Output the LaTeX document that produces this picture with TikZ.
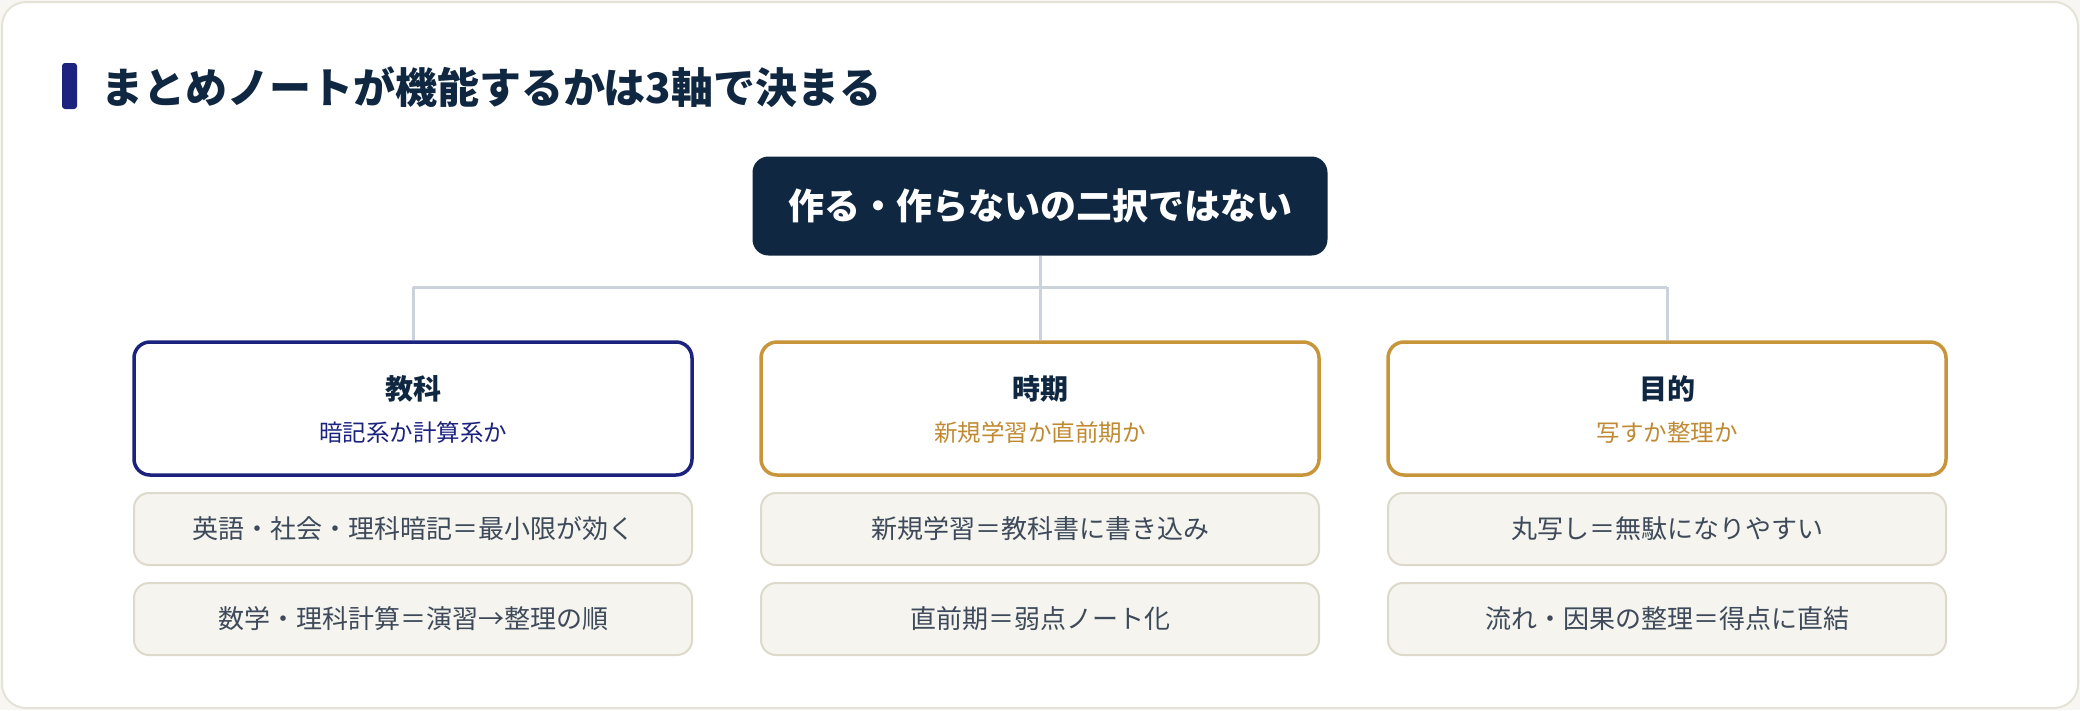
\documentclass[tikz,border=0pt]{standalone}
\usepackage{fontspec}
\setmainfont{Noto Sans CJK JP}
\usetikzlibrary{positioning}
\usetikzlibrary{backgrounds}
\definecolor{navy}{HTML}{0F2740}
\definecolor{indigo}{HTML}{1B237E}
\definecolor{gold}{HTML}{C8953A}
\definecolor{goldtext}{HTML}{C08A32}
\definecolor{linkgray}{HTML}{CBD2DB}
\definecolor{paper}{HTML}{F5F4EF}
\definecolor{paperline}{HTML}{DEDACB}
\definecolor{slate}{HTML}{3E4A5A}
\definecolor{framecol}{HTML}{E5E3D8}
\definecolor{outside}{HTML}{F7F6F2}
\tikzset{
  axisbox/.style={draw=#1,line width=3.5pt,fill=white,rounded corners=16pt,minimum width=558pt,minimum height=133pt},
  notebox/.style={draw=paperline,line width=2pt,fill=paper,rounded corners=15pt,minimum width=558pt,minimum height=72pt,text=slate,font=\fontsize{26}{31}\selectfont},
  link/.style={draw=linkgray,line width=3pt}
}

\begin{document}
\begin{tikzpicture}[x=1pt,y=-1pt]
\useasboundingbox (0,0) rectangle (2080,710);
\fill[outside] (0,0) rectangle (2080,710);
\draw[framecol,line width=2pt,fill=white,rounded corners=24pt] (2,2) rectangle (2078,708);
\fill[indigo,rounded corners=3pt] (62,63) rectangle (77,109);
\node (title) [anchor=west,inner sep=0pt,text=navy,font=\fontsize{42}{50}\selectfont\bfseries] at (101,87) {まとめノートが機能するかは3軸で決まる};
\node (root) at (1040,206) [fill=navy,rounded corners=16pt,minimum width=575pt,minimum height=99pt,text=white,font=\fontsize{36}{42}\selectfont\bfseries] {作る・作らないの二択ではない};
\coordinate (fork) at (1040,287);
\foreach \i/\xx/\col/\subcol/\head/\sub/\na/\nb in {
  1/413/indigo/indigo/教科/暗記系か計算系か/英語・社会・理科暗記＝最小限が効く/数学・理科計算＝演習→整理の順,
  2/1040/gold/goldtext/時期/新規学習か直前期か/新規学習＝教科書に書き込み/直前期＝弱点ノート化,
  3/1667/gold/goldtext/目的/写すか整理か/丸写し＝無駄になりやすい/流れ・因果の整理＝得点に直結} {
\node (ax\i) at (\xx,408.5) [axisbox=\col] {};
\node (h\i) at (\xx,389) [text=navy,font=\fontsize{28}{34}\selectfont\bfseries] {\head};
\node (s\i) at (\xx,433) [text=\subcol,font=\fontsize{23.5}{28}\selectfont] {\sub};
\node (n\i) at (\xx,529) [notebox] {\na};
\node (m\i) at (\xx,619) [notebox] {\nb};
\coordinate (k\i) at (\xx,287);
}
\draw[link] (root.south) -- (fork);
\draw[link] (k1) -- (k3);
\foreach \i in {1,2,3} {
\draw[link] (k\i) -- (ax\i.north);
}
\end{tikzpicture}
\end{document}
